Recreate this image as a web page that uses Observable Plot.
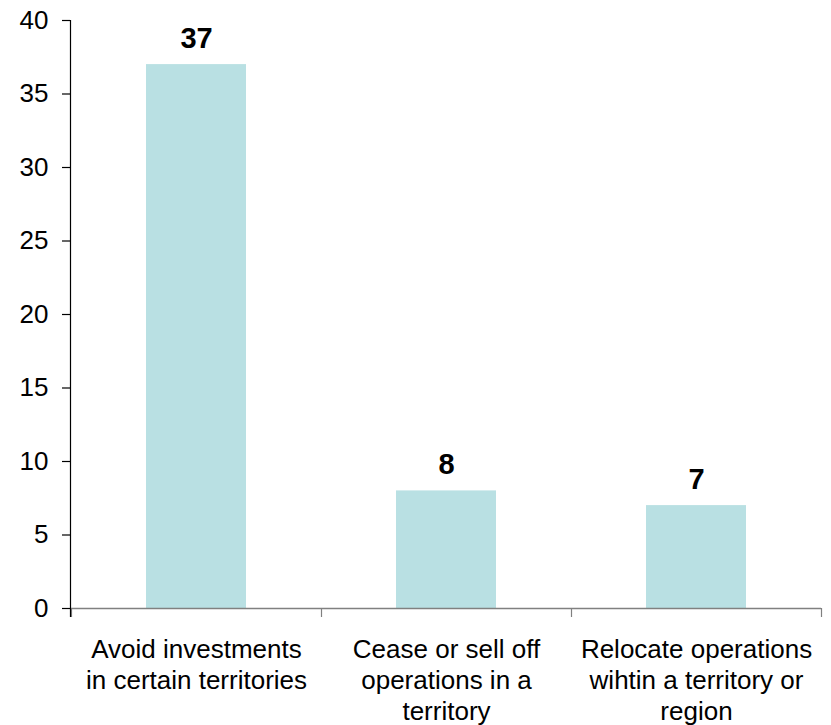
<!DOCTYPE html>
<html>
<head>
<meta charset="utf-8">
<script src="https://cdn.jsdelivr.net/npm/d3@7"></script>
<script src="https://cdn.jsdelivr.net/npm/@observablehq/plot@0.6"></script>
<style>
  html, body { margin: 0; padding: 0; background: #fff; }
  #chart svg { display: block; }
</style>
</head>
<body>
<div id="chart"></div>
<script>
const categories = [
  "Avoid investments\nin certain territories",
  "Cease or sell off\noperations in a\nterritory",
  "Relocate operations\nwihtin a territory or\nregion"
];
const values = [37, 8, 7];
const yTicks = [0, 5, 10, 15, 20, 25, 30, 35, 40];

const data = categories.map((c, i) => ({category: c, value: values[i]}));

// Axis lines and band-boundary tick marks, positioned from the scales
function axisLines(index, scales, vals, dimensions) {
  const x = scales.x;
  const y = scales.y;
  const step = x.step();
  const y0 = y(0);
  const g = d3.create("svg:g");
  const edges = categories.map(c => x(c) + x.bandwidth() / 2 - step / 2);
  edges.push(x(categories[categories.length - 1]) + x.bandwidth() / 2 + step / 2);
  // x axis baseline
  g.append("line")
    .attr("x1", edges[0]).attr("x2", edges[edges.length - 1])
    .attr("y1", y0 + 0.5).attr("y2", y0 + 0.5)
    .attr("stroke", "#808080").attr("stroke-width", 1.5);
  edges.forEach(e => {
    g.append("line")
      .attr("x1", e + 0.5).attr("x2", e + 0.5)
      .attr("y1", y0).attr("y2", y0 + 9)
      .attr("stroke", "#808080").attr("stroke-width", 1.2);
  });
  // y axis line
  g.append("line")
    .attr("x1", edges[0] - 0.5).attr("x2", edges[0] - 0.5)
    .attr("y1", y(d3.max(yTicks))).attr("y2", y0 + 9)
    .attr("stroke", "#000").attr("stroke-width", 1.2);
  return g.node();
}

const chart = Plot.plot({
  width: 831,
  height: 725,
  marginLeft: 70,
  marginRight: 9,
  marginTop: 20,
  marginBottom: 117,
  style: {fontFamily: "'Liberation Sans', Arial, sans-serif", fontSize: "26px", color: "#000", background: "#fff"},
  x: {domain: categories, paddingInner: 0.6, paddingOuter: 0.3, label: null},
  y: {domain: [0, 40], label: null},
  marks: [
    Plot.barY(data, {x: "category", y: "value", fill: "#b9e0e3"}),
    Plot.axisY({ticks: yTicks, tickSize: 8, tickPadding: 14, fontSize: 26, stroke: "#000", strokeWidth: 1.2, strokeOpacity: 1}),
    Plot.axisX({tickSize: 0, tickPadding: 27, fontSize: 26, lineHeight: 1.2, tickFormat: d => d}),
    axisLines,
    Plot.text(data, {x: "category", y: "value", text: d => String(d.value), fontWeight: "bold", fontSize: 29, lineAnchor: "bottom", dy: -17, fill: "#000"})
  ]
});

document.getElementById("chart").append(chart);
</script>
</body>
</html>
